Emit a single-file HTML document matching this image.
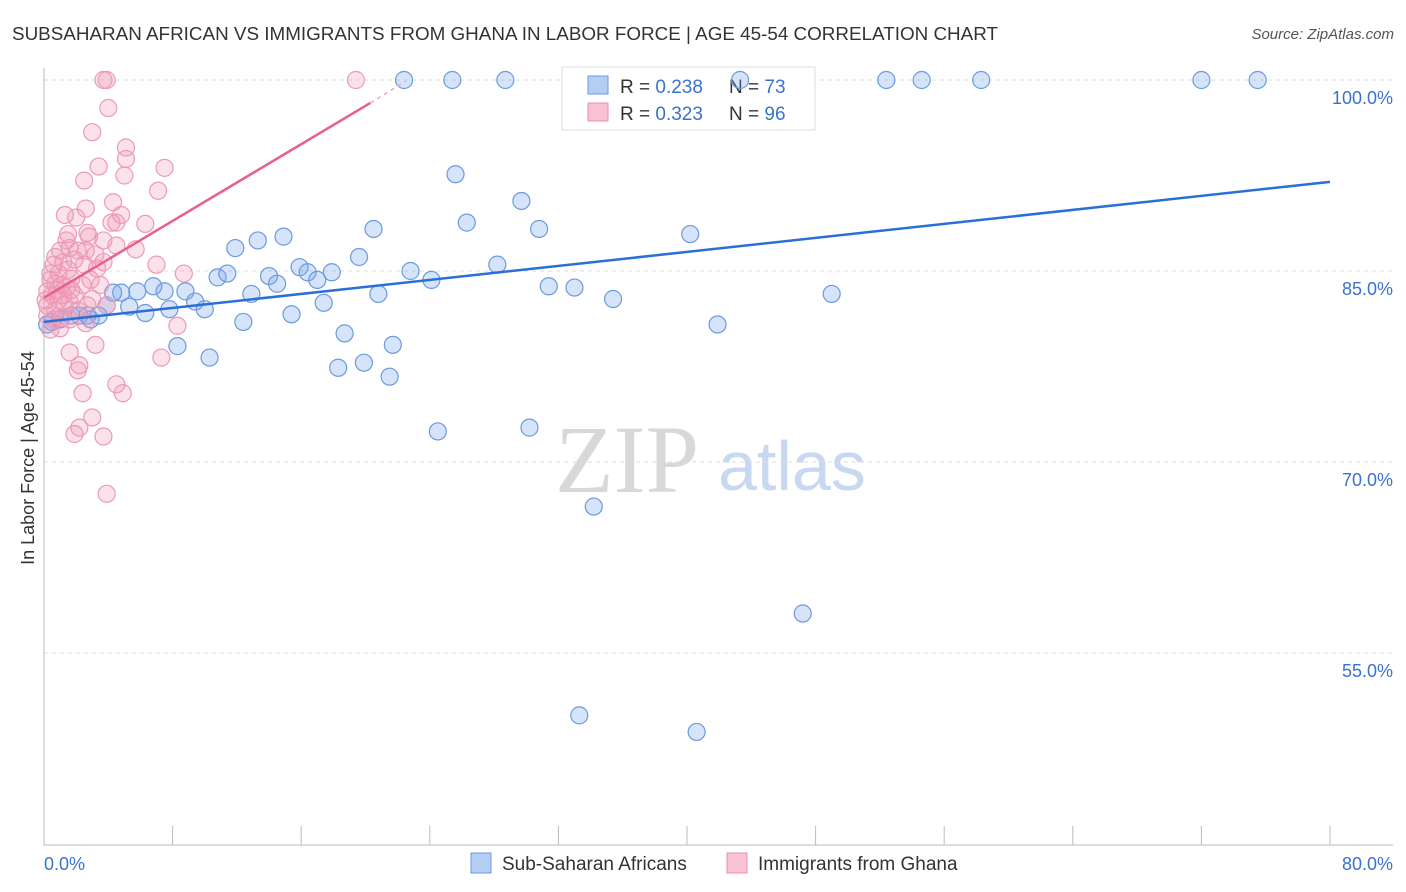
<!DOCTYPE html>
<html><head><meta charset="utf-8"><style>
body{margin:0;background:#fff;font-family:"Liberation Sans",sans-serif}
svg{display:block}
</style></head><body>
<svg id="chart" width="1406" height="892">
<text x="12" y="40" font-size="18" fill="#333" textLength="986" lengthAdjust="spacingAndGlyphs">SUBSAHARAN AFRICAN VS IMMIGRANTS FROM GHANA IN LABOR FORCE | AGE 45-54 CORRELATION CHART</text>
<text x="1394" y="39" font-size="15" fill="#555" font-style="italic" text-anchor="end">Source: ZipAtlas.com</text>
<text x="34" y="458" font-size="18" fill="#333" text-anchor="middle" transform="rotate(-90 34 458)">In Labor Force | Age 45-54</text>
<text x="555" y="492" font-size="96" fill="#d8d8d8" font-family="Liberation Serif,serif">ZIP</text>
<text x="718" y="490" font-size="70" fill="#c8d8f0">atlas</text>
<g id="grid"></g><g id="axes"></g>
<g>
<rect x="562" y="67" width="253" height="63" fill="#fff" stroke="#ddd"/>
<rect x="588" y="76" width="20" height="18" fill="#b5cdf2" stroke="#6a9ae0"/>
<rect x="588" y="103" width="20" height="18" fill="#f7c3d3" stroke="#ea8fad"/>
<text x="620" y="93" font-size="19" fill="#333">R = <tspan fill="#3a72d0">0.238</tspan></text>
<text x="729" y="93" font-size="19" fill="#333">N = <tspan fill="#3a72d0">73</tspan></text>
<text x="620" y="120" font-size="19" fill="#333">R = <tspan fill="#3a72d0">0.323</tspan></text>
<text x="729" y="120" font-size="19" fill="#333">N = <tspan fill="#3a72d0">96</tspan></text>
</g>
<g id="pts"></g><g id="lines"></g>
<g>
<rect x="471" y="853" width="20" height="20" fill="#b5cdf2" stroke="#6a9ae0"/>
<text x="502" y="870" font-size="19" fill="#333">Sub-Saharan Africans</text>
<rect x="727" y="853" width="20" height="20" fill="#f7c3d3" stroke="#ea8fad"/>
<text x="758" y="870" font-size="19" fill="#333">Immigrants from Ghana</text>
</g>
</svg>
<script>
const yTicks=[100,85,70,55];
const yTickLabels=["100.0%","85.0%","70.0%","55.0%"];
const xTicks=[0,8,16,24,32,40,48,56,64,72,80];
const xEndLabels=["0.0%","80.0%"];
const blueX=[22.4,25.4,28.7,43.3,52.4,54.6,58.3,72.0,75.5,25.6,29.7,26.3,20.5,30.8,40.2,13.3,14.9,11.9,19.6,15.9,22.8,28.2,10.8,11.4,14.0,16.4,17.9,14.5,17.0,24.1,31.4,33.0,49.0,35.4,20.8,12.9,7.5,8.8,6.8,5.8,4.8,4.3,9.4,10.0,17.4,7.8,6.3,5.3,3.9,15.4,12.4,41.9,3.4,2.7,2.2,1.7,1.0,0.5,0.2,18.7,8.3,21.7,10.3,19.9,18.3,21.5,24.5,30.2,34.2,47.2,33.3,40.6,2.9];
const blueY=[100,100,100,100,100,100,100,100,100,92.6,90.5,88.8,88.3,88.3,87.9,87.4,87.7,86.8,86.1,85.3,85.0,85.5,84.5,84.8,84.6,84.9,84.9,84.0,84.3,84.3,83.8,83.7,83.2,82.8,83.2,83.2,83.4,83.4,83.8,83.4,83.3,83.3,82.6,82.0,82.5,82.0,81.7,82.2,82.3,81.6,81.0,80.8,81.5,81.5,81.5,81.5,81.2,81.0,80.8,80.1,79.1,79.2,78.2,77.8,77.4,76.7,72.4,72.7,66.5,58.1,50.1,48.8,81.2];
const pinkX=[3.7,3.9,19.4,4.0,3.0,5.1,5.1,3.4,7.5,5.0,2.5,7.1,4.3,1.3,2.0,2.6,4.8,4.2,4.5,6.3,2.7,1.5,2.8,3.7,5.7,4.5,1.0,1.6,2.1,0.7,1.2,2.5,3.3,3.7,7.0,8.7,0.4,0.9,1.7,0.7,1.4,0.2,1.2,1.9,3.0,3.9,0.2,0.7,1.1,1.6,2.6,8.3,3.2,1.6,7.3,2.2,2.1,4.5,2.4,4.9,3.0,2.2,1.9,3.7,3.9,0.9,0.4,0.6,1.1,1.6,0.6,2.1,1.0,1.4,2.9,3.5,0.1,0.2,0.5,0.8,1.5,1.9,2.6,3.2,1.3,1.7,2.4,2.7,0.4];
const pinkY=[100,100,100,97.8,95.9,94.7,93.8,93.2,93.1,92.5,92.1,91.3,90.4,89.4,89.2,89.9,89.4,88.8,88.8,88.7,88.0,87.9,87.7,87.4,86.7,87.0,86.6,86.8,86.6,86.1,85.7,85.5,85.2,85.7,85.5,84.8,84.8,84.8,84.4,84.0,83.7,83.4,83.1,83.1,82.8,82.3,82.3,81.9,81.3,81.2,80.9,80.7,79.2,78.6,78.2,77.6,77.2,76.1,75.4,75.4,73.5,72.7,72.2,72.0,67.5,82.7,84.3,85.5,83.9,82.6,81.2,81.9,80.5,87.4,84.3,83.9,82.7,81.5,83.1,83.5,85.1,85.9,86.6,86.3,82.3,83.5,83.9,82.3,80.4];
const blueTrend=[[0,81.0],[80,92.0]];
const pinkTrend=[[0,82.9],[20.3,98.2]];
const pinkTrendDash=[[20.3,98.2],[22.5,99.9]];

const NS="http://www.w3.org/2000/svg";
const sx=v=>44+v*(1286/80);
const sy=v=>80+(100-v)*12.733;
function mk(t,a,p){const e=document.createElementNS(NS,t);for(const k in a)e.setAttribute(k,a[k]);p.appendChild(e);return e;}
const grid=document.getElementById('grid'),axes=document.getElementById('axes'),pts=document.getElementById('pts'),lines=document.getElementById('lines');
yTicks.forEach((v,i)=>{
 const l=mk('line',{x1:44,x2:1393,y1:sy(v),y2:sy(v),stroke:'#ddd','stroke-dasharray':'4,4'},grid);
 
 
 const t=mk('text',{x:1393,y:sy(v)+24,'font-size':18,fill:'#3a72d0','text-anchor':'end'},grid);
 t.textContent=yTickLabels[i];
 
 
});
const ya=mk('line',{x1:44,x2:44,y1:68,y2:845,stroke:'#bbb'},axes);


const xa=mk('line',{x1:44,x2:1393,y1:845,y2:845,stroke:'#bbb'},axes);


xTicks.forEach(v=>{
 const t=mk('line',{x1:sx(v),x2:sx(v),y1:826,y2:845,stroke:'#bbb'},axes);
 
 
});
const xl0=mk('text',{x:44,y:870,'font-size':18,fill:'#3a72d0'},axes);xl0.textContent=xEndLabels[0];


const xl1=mk('text',{x:1393,y:870,'font-size':18,fill:'#3a72d0','text-anchor':'end'},axes);xl1.textContent=xEndLabels[1];


blueX.forEach((x,i)=>{
 const c=mk('circle',{cx:sx(x),cy:sy(blueY[i]),r:8.5,fill:'rgba(120,165,235,0.3)',stroke:'#6a9ae0','stroke-width':1.2},pts);
 
 
});
pinkX.forEach((x,i)=>{
 const c=mk('circle',{cx:sx(x),cy:sy(pinkY[i]),r:8.5,fill:'rgba(242,150,180,0.28)',stroke:'#ec9ab5','stroke-width':1.2},pts);
 
 
});
const bl=mk('line',{x1:sx(blueTrend[0][0]),y1:sy(blueTrend[0][1]),x2:sx(blueTrend[1][0]),y2:sy(blueTrend[1][1]),stroke:'#2a6fd6','stroke-width':2.5},lines);


const pl=mk('line',{x1:sx(pinkTrend[0][0]),y1:sy(pinkTrend[0][1]),x2:sx(pinkTrend[1][0]),y2:sy(pinkTrend[1][1]),stroke:'#e8608c','stroke-width':2.5},lines);


const pd=mk('line',{x1:sx(pinkTrendDash[0][0]),y1:sy(pinkTrendDash[0][1]),x2:sx(pinkTrendDash[1][0]),y2:sy(pinkTrendDash[1][1]),stroke:'#f0a8c0','stroke-width':1.5,'stroke-dasharray':'4,4'},lines);


</script>
</body></html>
